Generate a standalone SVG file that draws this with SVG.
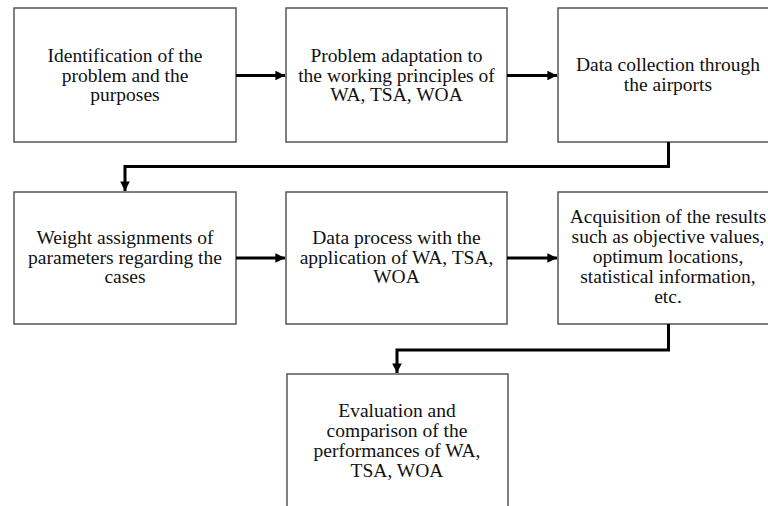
<svg xmlns="http://www.w3.org/2000/svg" width="768" height="506" viewBox="0 0 768 506">
<style>
.box{fill:#fff;stroke:#555;stroke-width:1.5}
.t{font-family:"Liberation Serif","Times New Roman",serif;font-size:19.5px;fill:#111;text-anchor:middle}
.c{fill:none;stroke:#000;stroke-width:3}
</style>
<defs>
<marker id="ah" viewBox="0 0 10 10" refX="10" refY="5" markerWidth="3.2" markerHeight="3.2" orient="auto" markerUnits="strokeWidth">
<path d="M0,0 L10,5 L0,10 Z" fill="#000"/>
</marker>
</defs>
<rect width="768" height="506" fill="#fff"/>
<g id="n1"><rect class="box" x="14" y="8" width="222" height="134"/>
<text class="t" x="125" y="62">Identification of the</text>
<text class="t" x="125" y="82">problem and the</text>
<text class="t" x="125" y="101">purposes</text></g>
<g id="n2"><rect class="box" x="286" y="8" width="221" height="134"/>
<text class="t" x="396.5" y="62">Problem adaptation to</text>
<text class="t" x="396.5" y="82">the working principles of</text>
<text class="t" x="396.5" y="101">WA, TSA, WOA</text></g>
<g id="n3"><rect class="box" x="558" y="8" width="222" height="134"/>
<text class="t" x="668" y="71">Data collection through</text>
<text class="t" x="668" y="91">the airports</text></g>
<g id="n4"><rect class="box" x="14" y="192" width="222" height="132"/>
<text class="t" x="125" y="244">Weight assignments of</text>
<text class="t" x="125" y="264">parameters regarding the</text>
<text class="t" x="125" y="283">cases</text></g>
<g id="n5"><rect class="box" x="286" y="192" width="221" height="132"/>
<text class="t" x="396.5" y="244">Data process with the</text>
<text class="t" x="396.5" y="264">application of WA, TSA,</text>
<text class="t" x="396.5" y="283">WOA</text></g>
<g id="n6"><rect class="box" x="558" y="192" width="222" height="132"/>
<text class="t" x="668" y="223">Acquisition of the results</text>
<text class="t" x="668" y="243">such as objective values,</text>
<text class="t" x="668" y="263">optimum locations,</text>
<text class="t" x="668" y="283">statistical information,</text>
<text class="t" x="668" y="303">etc.</text></g>
<g id="n7"><rect class="box" x="287" y="374" width="221" height="140"/>
<text class="t" x="397" y="417">Evaluation and</text>
<text class="t" x="397" y="437">comparison of the</text>
<text class="t" x="397" y="457">performances of WA,</text>
<text class="t" x="397" y="477">TSA, WOA</text></g>
<g id="connectors">
<path class="c" d="M236,75.5 H285" marker-end="url(#ah)"/>
<path class="c" d="M507,75.5 H557" marker-end="url(#ah)"/>
<path class="c" d="M668.5,142 V166.5 H125 V191" marker-end="url(#ah)"/>
<path class="c" d="M236,258 H285" marker-end="url(#ah)"/>
<path class="c" d="M507,258 H557" marker-end="url(#ah)"/>
<path class="c" d="M668.5,324 V350 H397 V373" marker-end="url(#ah)"/>
</g>
</svg>
